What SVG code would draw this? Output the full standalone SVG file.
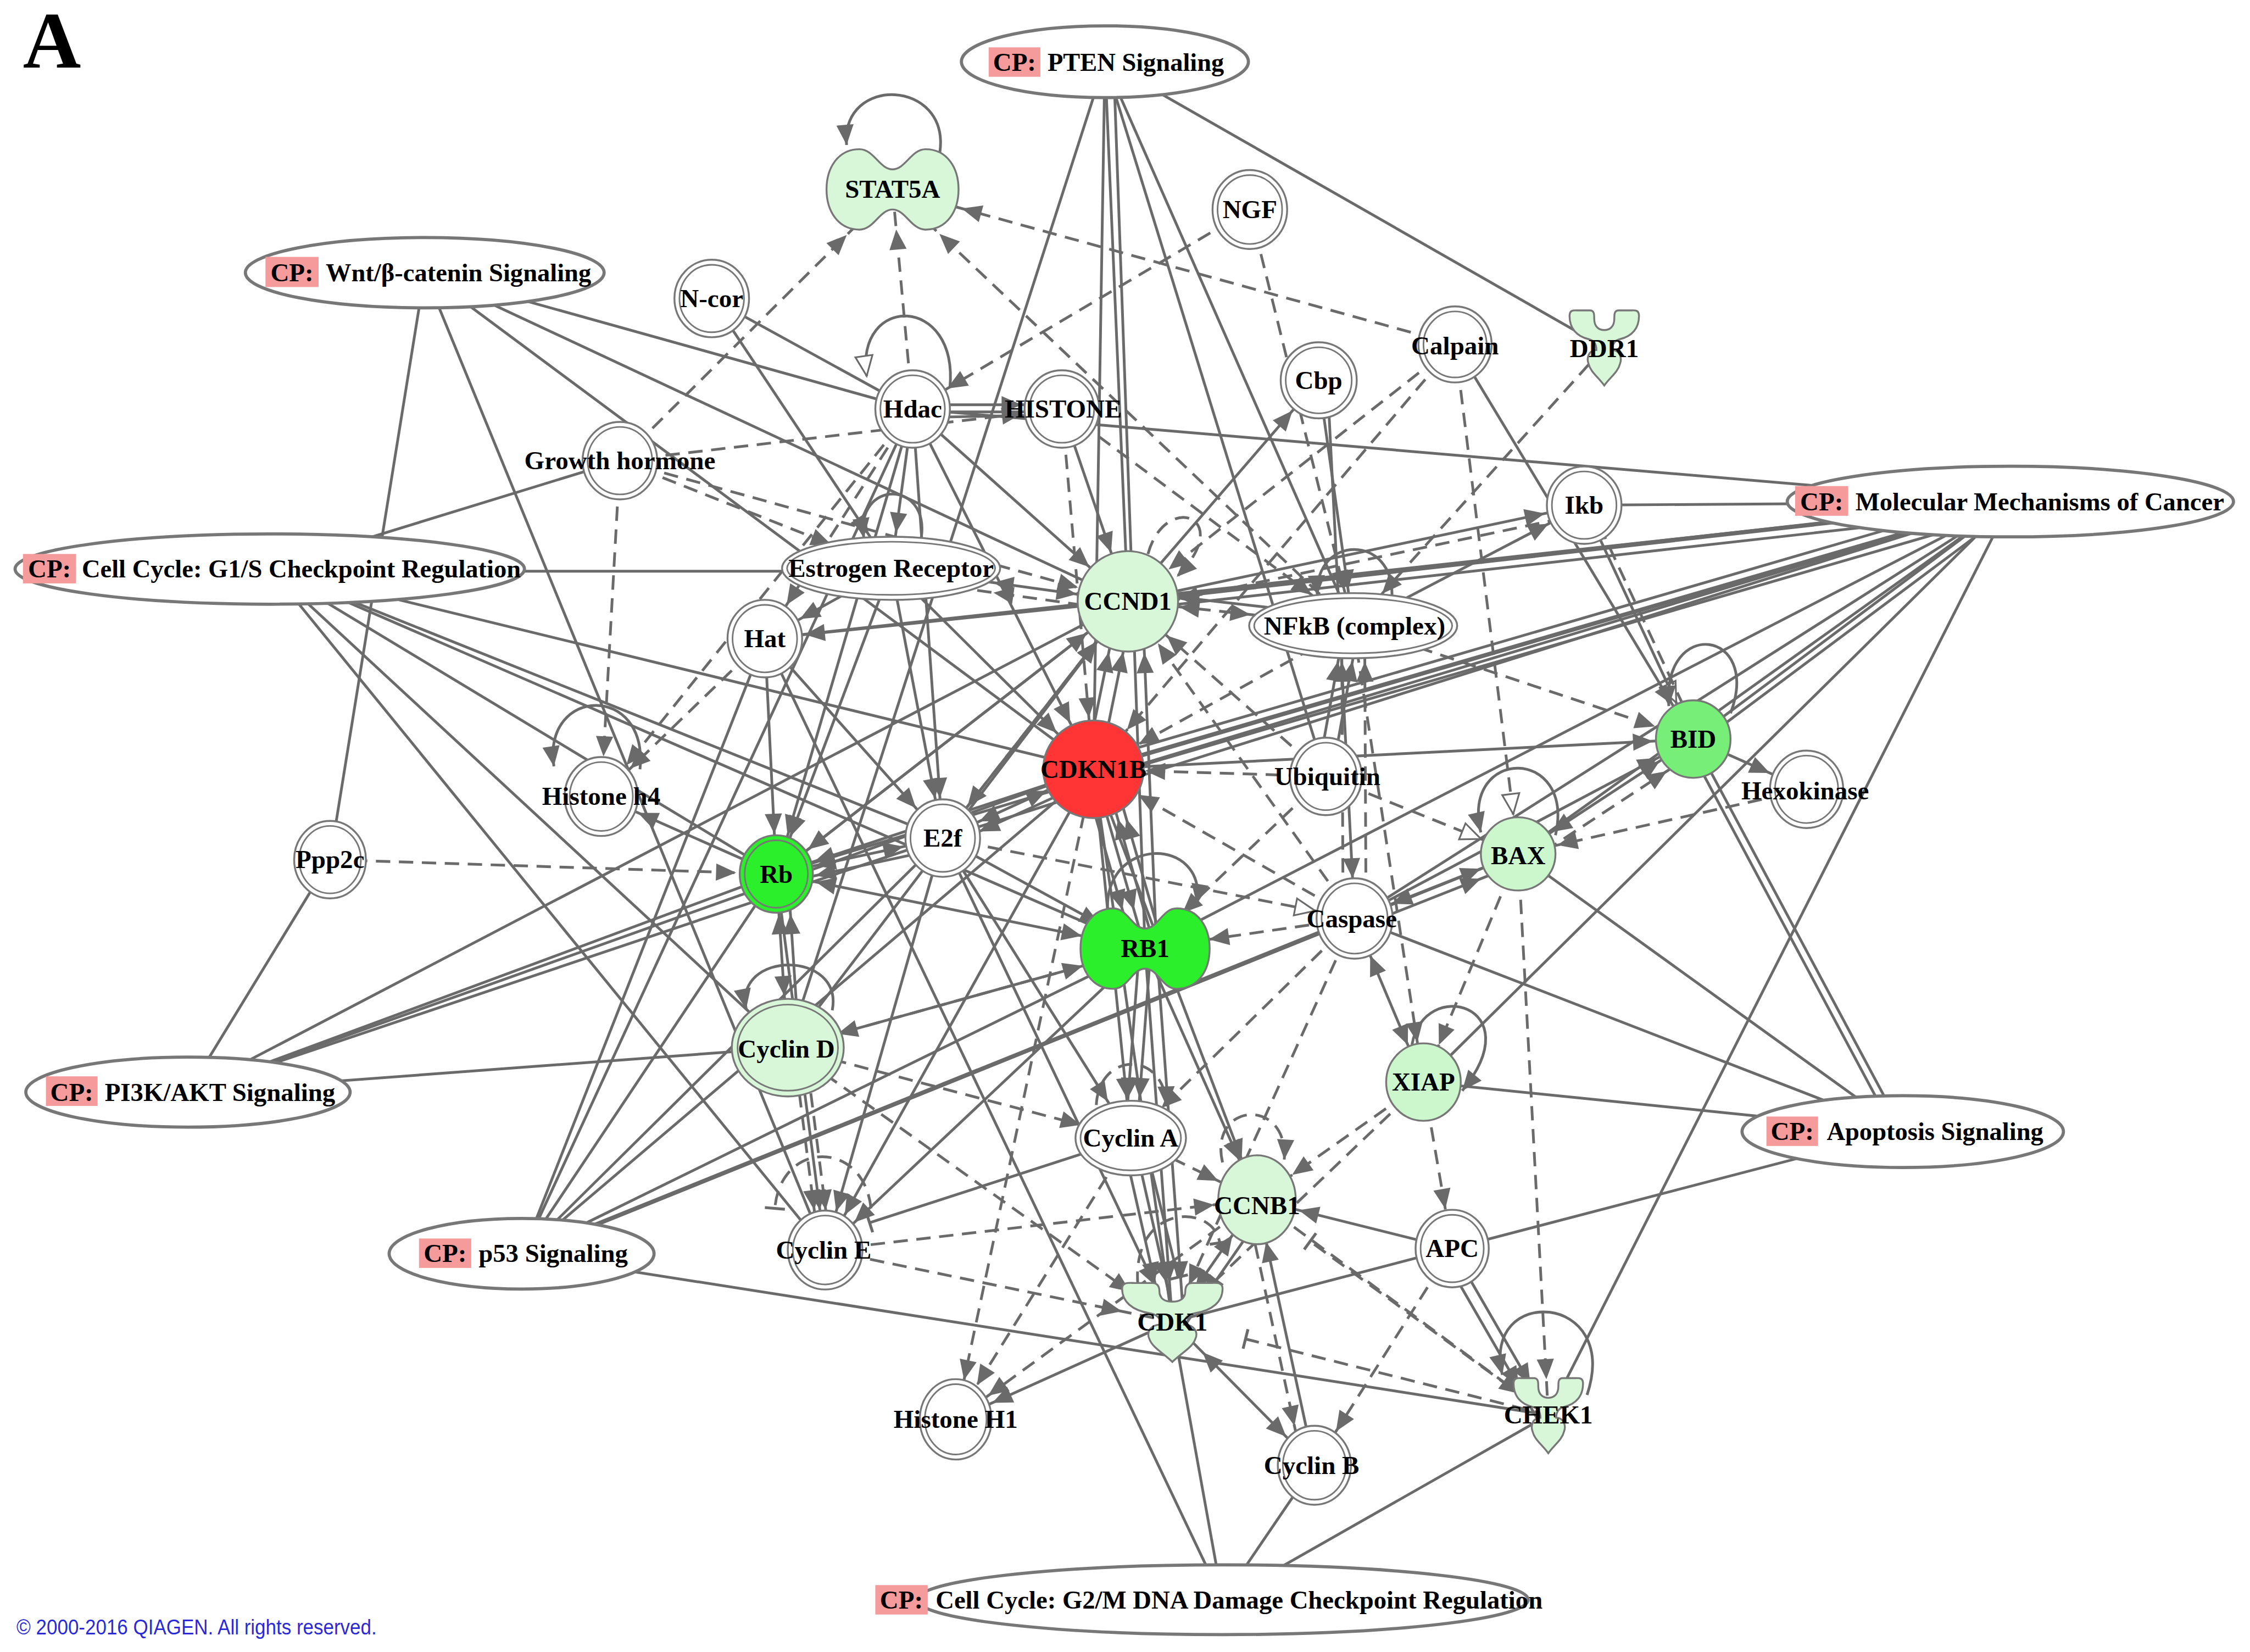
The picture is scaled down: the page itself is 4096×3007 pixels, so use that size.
<svg xmlns="http://www.w3.org/2000/svg" width="4096" height="3007" viewBox="0 0 4096 3007">
<style>
.s{stroke:#6a6a6a;stroke-width:1.9;fill:none}
.d{stroke-dasharray:10 6}
.k{stroke-width:3}
.ah{fill:#6a6a6a}
.e0{marker-end:url(#a0)}.e25{marker-end:url(#a25)}.e28{marker-end:url(#a28)}.e30{marker-end:url(#a30)}.e36{marker-end:url(#a36)}.e45{marker-end:url(#a45)}.e50{marker-end:url(#a50)}.e72{marker-end:url(#a72)}
.s28{marker-start:url(#a28)}.s30{marker-start:url(#a30)}.s36{marker-start:url(#a36)}.s72{marker-start:url(#a72)}
.o0{marker-end:url(#o0)}.o28{marker-end:url(#o28)}.t0{marker-end:url(#t0)}
.o{fill:#fff;stroke:#777;stroke-width:1.3}
.i{fill:none;stroke:#777;stroke-width:1.1}
.g{fill:#d8f7d8;stroke:#777;stroke-width:1.3}
.t{font-family:"Liberation Serif","Times New Roman",serif;font-weight:700;font-size:18px;text-anchor:middle;fill:#000}
.cpe{fill:#fff;stroke:#777;stroke-width:2.2}
.cpb{fill:#f69b9b}
.cpt{font-family:"Liberation Serif","Times New Roman",serif;font-weight:700;font-size:18px;fill:#000}
</style>
<defs>
<marker id="a0" markerUnits="userSpaceOnUse" markerWidth="14" markerHeight="12" refX="14" refY="6" orient="auto-start-reverse" overflow="visible"><path class="ah" d="M0,0L14,6L0,12z"/></marker>
<marker id="a25" markerUnits="userSpaceOnUse" markerWidth="14" markerHeight="12" refX="39" refY="6" orient="auto-start-reverse" overflow="visible"><path class="ah" d="M0,0L14,6L0,12z"/></marker>
<marker id="a28" markerUnits="userSpaceOnUse" markerWidth="14" markerHeight="12" refX="42" refY="6" orient="auto-start-reverse" overflow="visible"><path class="ah" d="M0,0L14,6L0,12z"/></marker>
<marker id="a30" markerUnits="userSpaceOnUse" markerWidth="14" markerHeight="12" refX="44" refY="6" orient="auto-start-reverse" overflow="visible"><path class="ah" d="M0,0L14,6L0,12z"/></marker>
<marker id="a36" markerUnits="userSpaceOnUse" markerWidth="14" markerHeight="12" refX="50" refY="6" orient="auto-start-reverse" overflow="visible"><path class="ah" d="M0,0L14,6L0,12z"/></marker>
<marker id="a45" markerUnits="userSpaceOnUse" markerWidth="14" markerHeight="12" refX="59" refY="6" orient="auto-start-reverse" overflow="visible"><path class="ah" d="M0,0L14,6L0,12z"/></marker>
<marker id="a50" markerUnits="userSpaceOnUse" markerWidth="14" markerHeight="12" refX="64" refY="6" orient="auto-start-reverse" overflow="visible"><path class="ah" d="M0,0L14,6L0,12z"/></marker>
<marker id="a72" markerUnits="userSpaceOnUse" markerWidth="14" markerHeight="12" refX="86" refY="6" orient="auto-start-reverse" overflow="visible"><path class="ah" d="M0,0L14,6L0,12z"/></marker>
<marker id="o0" markerUnits="userSpaceOnUse" markerWidth="14" markerHeight="12" refX="14" refY="6" orient="auto" overflow="visible"><path d="M0,0L14,6L0,12z" fill="#fff" stroke="#6a6a6a" stroke-width="1.2"/></marker>
<marker id="o28" markerUnits="userSpaceOnUse" markerWidth="14" markerHeight="12" refX="42" refY="6" orient="auto" overflow="visible"><path d="M0,0L14,6L0,12z" fill="#fff" stroke="#6a6a6a" stroke-width="1.2"/></marker>
<marker id="t0" markerUnits="userSpaceOnUse" markerWidth="2" markerHeight="14" refX="0" refY="0" orient="auto" overflow="visible"><path d="M0,-7L0,7" fill="none" stroke="#6a6a6a" stroke-width="2"/></marker>
</defs>
<rect x="0" y="0" width="4096" height="3007" fill="#fff"/>
<g transform="scale(2.612245)">
<g id="connectors">
<line class="s" x1="770" y1="43" x2="549" y2="730"/>
<line class="s" x1="770" y1="43" x2="762" y2="536"/>
<line class="s" x1="770" y1="43" x2="786" y2="419"/>
<line class="s" x1="776" y1="43" x2="798" y2="661"/>
<line class="s" x1="770" y1="43" x2="924" y2="541"/>
<line class="s" x1="770" y1="43" x2="943" y2="436"/>
<line class="s" x1="770" y1="43" x2="1118" y2="242"/>
<line class="s" x1="296" y1="190" x2="230" y2="599"/>
<line class="s" x1="296" y1="190" x2="575" y2="871"/>
<line class="s" x1="296" y1="190" x2="636" y2="285"/>
<line class="s" x1="296" y1="190" x2="786" y2="419"/>
<line class="s" x1="296" y1="190" x2="762" y2="536"/>
<line class="s" x1="188" y1="396" x2="432" y2="321"/>
<line class="s" x1="188" y1="398" x2="621" y2="398"/>
<line class="s" x1="188" y1="396" x2="762" y2="536"/>
<line class="s" x1="188" y1="396" x2="657" y2="584"/>
<line class="s" x1="188" y1="396" x2="798" y2="661"/>
<line class="s" x1="188" y1="396" x2="541" y2="609"/>
<line class="s" x1="188" y1="396" x2="549" y2="730"/>
<line class="s" x1="188" y1="396" x2="575" y2="871"/>
<line class="s" x1="1401" y1="350" x2="636" y2="285"/>
<line class="s" x1="1401" y1="350" x2="1104" y2="352"/>
<line class="s k" x1="1401" y1="350" x2="786" y2="419"/>
<line class="s" x1="1401" y1="356" x2="786" y2="425"/>
<line class="s k" x1="1401" y1="350" x2="762" y2="536"/>
<line class="s" x1="1401" y1="344" x2="762" y2="530"/>
<line class="s" x1="1401" y1="357" x2="762" y2="543"/>
<line class="s" x1="1401" y1="350" x2="533" y2="445"/>
<line class="s" x1="1401" y1="350" x2="798" y2="661"/>
<line class="s" x1="1401" y1="350" x2="541" y2="609"/>
<line class="s" x1="1401" y1="350" x2="1058" y2="595"/>
<line class="s" x1="1401" y1="350" x2="992" y2="754"/>
<line class="s" x1="1401" y1="350" x2="1079" y2="986"/>
<line class="s" x1="1401" y1="350" x2="1180" y2="515"/>
<line class="s" x1="1406" y1="352" x2="1185" y2="517"/>
<line class="s" x1="1401" y1="350" x2="944" y2="640"/>
<line class="s" x1="1401" y1="350" x2="657" y2="584"/>
<line class="s" x1="131" y1="761" x2="230" y2="599"/>
<line class="s" x1="131" y1="761" x2="541" y2="609"/>
<line class="s" x1="131" y1="761" x2="657" y2="584"/>
<line class="s" x1="131" y1="761" x2="762" y2="536"/>
<line class="s" x1="131" y1="761" x2="786" y2="419"/>
<line class="s" x1="131" y1="761" x2="549" y2="730"/>
<line class="s" x1="364" y1="874" x2="533" y2="445"/>
<line class="s" x1="364" y1="874" x2="636" y2="285"/>
<line class="s" x1="364" y1="874" x2="541" y2="609"/>
<line class="s" x1="364" y1="874" x2="657" y2="584"/>
<line class="s" x1="364" y1="874" x2="762" y2="536"/>
<line class="s" x1="364" y1="874" x2="798" y2="661"/>
<line class="s k" x1="364" y1="874" x2="944" y2="640"/>
<line class="s" x1="364" y1="874" x2="1058" y2="595"/>
<line class="s" x1="364" y1="874" x2="1079" y2="986"/>
<line class="s" x1="1326" y1="788" x2="1180" y2="515"/>
<line class="s" x1="1321" y1="790" x2="1175" y2="517"/>
<line class="s" x1="1326" y1="788" x2="1058" y2="595"/>
<line class="s" x1="1326" y1="788" x2="992" y2="754"/>
<line class="s" x1="1326" y1="788" x2="944" y2="640"/>
<line class="s" x1="1326" y1="788" x2="1012" y2="870"/>
<line class="s" x1="852" y1="1115" x2="533" y2="445"/>
<line class="s" x1="852" y1="1115" x2="817" y2="921"/>
<line class="s" x1="852" y1="1115" x2="916" y2="1021"/>
<line class="s" x1="852" y1="1115" x2="1079" y2="986"/>
<line class="s d e45" x1="432" y1="321" x2="622" y2="132"/>
<line class="s d e28" x1="636" y1="285" x2="622" y2="132"/>
<line class="s d e45" x1="943" y1="436" x2="622" y2="132"/>
<line class="s d e50" x1="1014" y1="240" x2="622" y2="132"/>
<line class="s d e28" x1="871" y1="146" x2="636" y2="285"/>
<line class="s e28" x1="636" y1="282" x2="740" y2="282"/>
<line class="s" x1="636" y1="287" x2="740" y2="287"/>
<line class="s" x1="636" y1="291" x2="740" y2="289"/>
<line class="s" x1="496" y1="208" x2="636" y2="285"/>
<line class="s e28" x1="496" y1="208" x2="621" y2="396"/>
<line class="s e25" x1="636" y1="285" x2="621" y2="396"/>
<line class="s d e28" x1="636" y1="285" x2="419" y2="555"/>
<line class="s e28" x1="636" y1="285" x2="541" y2="609"/>
<line class="s e28" x1="636" y1="285" x2="657" y2="584"/>
<line class="s e36" x1="636" y1="285" x2="786" y2="419"/>
<line class="s e36" x1="636" y1="285" x2="762" y2="536"/>
<line class="s d e28" x1="636" y1="285" x2="533" y2="445"/>
<line class="s e36" x1="740" y1="285" x2="786" y2="419"/>
<line class="s d e36" x1="740" y1="285" x2="943" y2="436"/>
<line class="s d e36" x1="740" y1="285" x2="762" y2="536"/>
<line class="s d e28" x1="432" y1="321" x2="419" y2="555"/>
<line class="s d e45" x1="432" y1="321" x2="621" y2="396"/>
<line class="s d e28" x1="432" y1="321" x2="740" y2="285"/>
<line class="s d e36" x1="432" y1="321" x2="786" y2="419"/>
<line class="s e36 s72" x1="621" y1="396" x2="786" y2="419"/>
<line class="s d e72" x1="786" y1="426" x2="621" y2="403"/>
<line class="s e28" x1="621" y1="396" x2="541" y2="609"/>
<line class="s e28" x1="621" y1="396" x2="657" y2="584"/>
<line class="s e36" x1="621" y1="396" x2="762" y2="536"/>
<line class="s e28" x1="621" y1="396" x2="533" y2="445"/>
<line class="s e28" x1="786" y1="419" x2="533" y2="445"/>
<line class="s e28" x1="786" y1="419" x2="1104" y2="352"/>
<line class="s d e36" x1="1104" y1="358" x2="786" y2="425"/>
<line class="s d e72 s36" x1="786" y1="419" x2="943" y2="436"/>
<line class="s e36" x1="943" y1="430" x2="786" y2="412"/>
<line class="s d e36" x1="1014" y1="240" x2="786" y2="419"/>
<line class="s d e36" x1="1014" y1="240" x2="762" y2="536"/>
<line class="s d o28" x1="1014" y1="240" x2="1058" y2="595"/>
<line class="s e28" x1="1014" y1="240" x2="1180" y2="515"/>
<line class="s o28" x1="1104" y1="352" x2="1180" y2="515"/>
<line class="s d" x1="1108" y1="352" x2="1184" y2="515"/>
<line class="s d e30" x1="1118" y1="242" x2="943" y2="436"/>
<line class="s d e25" x1="871" y1="146" x2="943" y2="436"/>
<line class="s e25" x1="919" y1="265" x2="943" y2="436"/>
<line class="s e28" x1="925" y1="265" x2="944" y2="640"/>
<line class="s e28" x1="786" y1="419" x2="919" y2="265"/>
<line class="s e28" x1="943" y1="436" x2="1104" y2="352"/>
<line class="s d e28" x1="943" y1="436" x2="1180" y2="515"/>
<line class="s d e28" x1="943" y1="436" x2="992" y2="754"/>
<line class="s d e36" x1="943" y1="436" x2="762" y2="536"/>
<line class="s e25" x1="918" y1="541" x2="937" y2="436"/>
<line class="s e25" x1="928" y1="541" x2="947" y2="436"/>
<line class="s d e36" x1="924" y1="541" x2="762" y2="536"/>
<line class="s d o28" x1="924" y1="541" x2="1058" y2="595"/>
<line class="s d e36" x1="924" y1="541" x2="786" y2="419"/>
<line class="s d e36" x1="924" y1="541" x2="798" y2="661"/>
<line class="s d e25" x1="936" y1="640" x2="935" y2="436"/>
<line class="s d e25" x1="952" y1="640" x2="951" y2="436"/>
<line class="s d e36" x1="944" y1="640" x2="762" y2="536"/>
<line class="s d e45" x1="944" y1="640" x2="798" y2="661"/>
<line class="s d e36" x1="944" y1="640" x2="786" y2="419"/>
<line class="s e28 s28" x1="944" y1="640" x2="1058" y2="595"/>
<line class="s e28" x1="944" y1="647" x2="1058" y2="602"/>
<line class="s e28 s28" x1="944" y1="640" x2="992" y2="754"/>
<line class="s e28" x1="944" y1="640" x2="1180" y2="515"/>
<line class="s d e30" x1="944" y1="640" x2="788" y2="793"/>
<line class="s d e28" x1="944" y1="640" x2="817" y2="921"/>
<line class="s e28 s28" x1="1180" y1="515" x2="1058" y2="595"/>
<line class="s d e28" x1="1063" y1="602" x2="1185" y2="522"/>
<line class="s d e28" x1="1259" y1="550" x2="1058" y2="595"/>
<line class="s e28" x1="1180" y1="515" x2="1259" y2="550"/>
<line class="s d e25" x1="1058" y1="595" x2="1079" y2="986"/>
<line class="s e28" x1="762" y1="536" x2="1180" y2="515"/>
<line class="s d e28" x1="1058" y1="595" x2="992" y2="754"/>
<line class="s d e28" x1="533" y1="445" x2="419" y2="555"/>
<line class="s e28" x1="541" y1="609" x2="419" y2="555"/>
<line class="s d e28" x1="230" y1="599" x2="541" y2="609"/>
<line class="s e28" x1="533" y1="445" x2="657" y2="584"/>
<line class="s e28" x1="533" y1="445" x2="541" y2="609"/>
<line class="s e28 s28" x1="657" y1="584" x2="541" y2="609"/>
<line class="s e28" x1="657" y1="591" x2="541" y2="616"/>
<line class="s e28 s36" x1="762" y1="536" x2="657" y2="584"/>
<line class="s e28" x1="762" y1="543" x2="657" y2="591"/>
<line class="s e28" x1="762" y1="536" x2="541" y2="609"/>
<line class="s e28" x1="754" y1="536" x2="790" y2="661"/>
<line class="s e28" x1="762" y1="536" x2="798" y2="661"/>
<line class="s e36" x1="805" y1="661" x2="769" y2="536"/>
<line class="s e36" x1="811" y1="661" x2="775" y2="536"/>
<line class="s e36" x1="756" y1="536" x2="780" y2="419"/>
<line class="s e36" x1="766" y1="536" x2="790" y2="419"/>
<line class="s e36" x1="657" y1="584" x2="786" y2="419"/>
<line class="s e36" x1="541" y1="609" x2="786" y2="419"/>
<line class="s e36" x1="806" y1="661" x2="796" y2="419"/>
<line class="s e28" x1="786" y1="419" x2="541" y2="609"/>
<line class="s e36" x1="549" y1="730" x2="786" y2="419"/>
<line class="s e45 s28" x1="541" y1="609" x2="798" y2="661"/>
<line class="s e36" x1="657" y1="584" x2="798" y2="661"/>
<line class="s e28 s36" x1="549" y1="730" x2="541" y2="609"/>
<line class="s e28" x1="557" y1="730" x2="549" y2="609"/>
<line class="s d e28" x1="553" y1="730" x2="571" y2="871"/>
<line class="s d e28" x1="561" y1="730" x2="579" y2="871"/>
<line class="s d e36" x1="549" y1="730" x2="788" y2="793"/>
<line class="s e45" x1="549" y1="730" x2="798" y2="661"/>
<line class="s e28" x1="657" y1="584" x2="575" y2="871"/>
<line class="s e30" x1="657" y1="584" x2="788" y2="793"/>
<line class="s e28" x1="657" y1="584" x2="817" y2="921"/>
<line class="s e28" x1="798" y1="661" x2="575" y2="871"/>
<line class="s e28" x1="794" y1="661" x2="784" y2="793"/>
<line class="s e28" x1="802" y1="661" x2="792" y2="793"/>
<line class="s e28" x1="798" y1="661" x2="817" y2="921"/>
<line class="s e28" x1="806" y1="661" x2="825" y2="921"/>
<line class="s e30" x1="798" y1="661" x2="876" y2="836"/>
<line class="s e28" x1="762" y1="536" x2="575" y2="871"/>
<line class="s e28" x1="762" y1="536" x2="788" y2="793"/>
<line class="s e28" x1="762" y1="536" x2="817" y2="921"/>
<line class="s e30" x1="762" y1="536" x2="876" y2="836"/>
<line class="s t0" x1="788" y1="793" x2="606" y2="852"/>
<line class="s d e30" x1="575" y1="871" x2="876" y2="836"/>
<line class="s d e36" x1="575" y1="871" x2="817" y2="921"/>
<line class="s e28" x1="782" y1="793" x2="811" y2="921"/>
<line class="s e28" x1="790" y1="793" x2="819" y2="921"/>
<line class="s t0" x1="797" y1="793" x2="821" y2="890"/>
<line class="s d e30" x1="788" y1="793" x2="876" y2="836"/>
<line class="s d e28" x1="788" y1="793" x2="666" y2="989"/>
<line class="s d e28" x1="762" y1="536" x2="666" y2="989"/>
<line class="s e28 s30" x1="876" y1="836" x2="817" y2="921"/>
<line class="s e28" x1="883" y1="841" x2="824" y2="926"/>
<line class="s e30" x1="1012" y1="870" x2="876" y2="836"/>
<line class="s e30" x1="916" y1="1021" x2="876" y2="836"/>
<line class="s d e28" x1="868" y1="836" x2="908" y2="1021"/>
<line class="s d t0" x1="1079" y1="986" x2="913" y2="865"/>
<line class="s d e25" x1="876" y1="836" x2="1079" y2="986"/>
<line class="s d t0" x1="1079" y1="986" x2="868" y2="933"/>
<line class="s e28" x1="817" y1="921" x2="666" y2="989"/>
<line class="s d e28" x1="876" y1="836" x2="666" y2="989"/>
<line class="s e28 s30" x1="817" y1="921" x2="916" y2="1021"/>
<line class="s" x1="817" y1="921" x2="1012" y2="870"/>
<line class="s e25" x1="1012" y1="870" x2="1079" y2="986"/>
<line class="s e25" x1="1004" y1="872" x2="1071" y2="988"/>
<line class="s d e28" x1="1012" y1="870" x2="916" y2="1021"/>
<line class="s d e28" x1="992" y1="754" x2="1012" y2="870"/>
<line class="s d e30" x1="992" y1="754" x2="876" y2="836"/>
<line class="s d e28" x1="992" y1="754" x2="817" y2="921"/>
<line class="s d o28" x1="657" y1="584" x2="944" y2="640"/>
<line class="s d e28" x1="786" y1="419" x2="657" y2="584"/>
<line class="s d e36" x1="549" y1="730" x2="817" y2="921"/>
<line class="s e28" x1="541" y1="609" x2="575" y2="871"/>
<line class="s d e36" x1="798" y1="661" x2="549" y2="730"/>
<path class="s e0" d="M655,106 C662,55 586,52 590,101"/>
<path class="s o0" d="M662,270 C668,205 596,205 604,262"/>
<path class="s e0" d="M970,416 C972,372 916,372 918,415"/>
<path class="s e0" d="M1206,497 C1228,438 1158,430 1163,492"/>
<path class="s e0" d="M1084,582 C1098,520 1018,520 1032,580"/>
<path class="s e0" d="M984,728 C992,680 1068,700 1019,760"/>
<path class="s e0" d="M1106,972 C1130,900 1032,895 1047,958"/>
<path class="s e0" d="M580,704 C588,662 512,662 520,703"/>
<path class="s e0" d="M446,536 C452,476 378,478 386,534"/>
<path class="s e0" d="M772,636 C768,582 842,582 834,630"/>
<path class="s e0" d="M642,375 C648,334 596,334 602,375"/>
<path class="s d e0" d="M800,386 C812,342 862,360 820,402"/>
<path class="s d t0" d="M607,842 C602,794 544,794 540,842"/>
<path class="s d e0" d="M764,770 C766,732 812,732 813,771"/>
<path class="s d e0" d="M852,810 C842,768 898,764 895,808"/>
<path class="s d t0" d="M793,896 C788,838 846,838 850,866"/>
</g>
<g id="cp-pten"><ellipse class="cpe" cx="770" cy="43" rx="100" ry="25"/><rect class="cpb" x="689" y="33" width="36" height="20.5"/><text class="cpt" x="707" y="49.5" text-anchor="middle">CP:</text><text class="cpt" x="730" y="49.5" textLength="123" lengthAdjust="spacingAndGlyphs">PTEN Signaling</text></g>
<g id="cp-wnt"><ellipse class="cpe" cx="296" cy="190" rx="125" ry="24.5"/><rect class="cpb" x="185" y="179" width="37" height="21"/><text class="cpt" x="203.5" y="196" text-anchor="middle">CP:</text><text class="cpt" x="227" y="196" textLength="185" lengthAdjust="spacingAndGlyphs">Wnt/β-catenin Signaling</text></g>
<g id="cp-g1s"><ellipse class="cpe" cx="188" cy="396.5" rx="177.5" ry="24.5"/><rect class="cpb" x="16" y="386" width="37" height="20.5"/><text class="cpt" x="34.5" y="402.5" text-anchor="middle">CP:</text><text class="cpt" x="57" y="402.5" textLength="306" lengthAdjust="spacingAndGlyphs">Cell Cycle: G1/S Checkpoint Regulation</text></g>
<g id="cp-mmc"><ellipse class="cpe" cx="1401" cy="349.5" rx="155.5" ry="24.6"/><rect class="cpb" x="1251" y="338.7" width="37" height="20.7"/><text class="cpt" x="1269.5" y="355.5" text-anchor="middle">CP:</text><text class="cpt" x="1293" y="355.5" textLength="257" lengthAdjust="spacingAndGlyphs">Molecular Mechanisms of Cancer</text></g>
<g id="cp-pi3k"><ellipse class="cpe" cx="131" cy="761" rx="113" ry="24.4"/><rect class="cpb" x="32" y="750" width="36" height="20.6"/><text class="cpt" x="50" y="767" text-anchor="middle">CP:</text><text class="cpt" x="73" y="767" textLength="160.6" lengthAdjust="spacingAndGlyphs">PI3K/AKT Signaling</text></g>
<g id="cp-apo"><ellipse class="cpe" cx="1326" cy="788.5" rx="112" ry="25"/><rect class="cpb" x="1231" y="778" width="36" height="20.5"/><text class="cpt" x="1249" y="794.5" text-anchor="middle">CP:</text><text class="cpt" x="1273" y="794.5" textLength="151" lengthAdjust="spacingAndGlyphs">Apoptosis Signaling</text></g>
<g id="cp-p53"><ellipse class="cpe" cx="363.5" cy="873.6" rx="92.3" ry="24.6"/><rect class="cpb" x="292" y="863" width="36.4" height="20.5"/><text class="cpt" x="310.2" y="879.5" text-anchor="middle">CP:</text><text class="cpt" x="333.5" y="879.5" textLength="104" lengthAdjust="spacingAndGlyphs">p53 Signaling</text></g>
<g id="cp-g2m"><ellipse class="cpe" cx="852" cy="1114.7" rx="213" ry="24.3"/><rect class="cpb" x="610" y="1104.5" width="36.5" height="20.5"/><text class="cpt" x="628.2" y="1121" text-anchor="middle">CP:</text><text class="cpt" x="652" y="1121" textLength="423" lengthAdjust="spacingAndGlyphs">Cell Cycle: G2/M DNA Damage Checkpoint Regulation</text></g>
<g id="n-stat5a"><path class="g" transform="translate(622,132)" d="M-23,-28C-13,-28 -9,-14 0,-14C9,-14 13,-28 23,-28C38,-28 46,-15 46,0C46,15 38,28 23,28C13,28 9,14 0,14C-9,14 -13,28 -23,28C-38,28 -46,15 -46,0C-46,-15 -38,-28 -23,-28Z"/><text class="t" x="622" y="138">STAT5A</text></g>
<g id="n-ngf"><ellipse class="o" cx="871" cy="146" rx="26" ry="27.5"/><ellipse class="i" cx="871" cy="146" rx="22.5" ry="24"/><text class="t" x="871" y="152">NGF</text></g>
<g id="n-ncor"><ellipse class="o" cx="496" cy="208" rx="26" ry="27"/><ellipse class="i" cx="496" cy="208" rx="22.5" ry="23.5"/><text class="t" x="496" y="214">N-cor</text></g>
<g id="n-calpain"><ellipse class="o" cx="1014" cy="240" rx="25.5" ry="26.5"/><ellipse class="i" cx="1014" cy="240" rx="22" ry="23"/><text class="t" x="1014" y="247">Calpain</text></g>
<g id="n-ddr1"><path class="g" transform="translate(1118,242)" d="M-24.2,-21.9C-24.2,-26.6 -20.7,-25.7 -17.9,-25.7L-10,-25.7C-7,-25.7 -7,-23 -7,-20C-7,-14 -3.5,-12 0,-12C3.5,-12 7,-14 7,-20C7,-23 7,-25.7 10,-25.7L17.9,-25.7C20.7,-25.7 24.2,-26.6 24.2,-21.9C24.2,-13.3 19.3,-7.6 11,-5.7C6.9,-4.75 5.5,-1.9 5.5,1.9C11,1.9 12.4,7.6 11,11.4C9.7,17.1 4.1,20.9 0,26.6C-4.1,20.9 -9.7,17.1 -11,11.4C-12.4,7.6 -11,1.9 -5.5,1.9C-5.5,-1.9 -6.9,-4.75 -11,-5.7C-19.3,-7.6 -24.2,-13.3 -24.2,-21.9Z"/><text class="t" x="1118" y="249">DDR1</text></g>
<g id="n-cbp"><ellipse class="o" cx="919" cy="265" rx="26.5" ry="26.5"/><ellipse class="i" cx="919" cy="265" rx="23" ry="23"/><text class="t" x="919" y="271">Cbp</text></g>
<g id="n-hdac"><ellipse class="o" cx="636" cy="285" rx="26" ry="27"/><ellipse class="i" cx="636" cy="285" rx="22.5" ry="23.5"/><text class="t" x="636" y="291">Hdac</text></g>
<g id="n-histone"><ellipse class="o" cx="740" cy="285" rx="26" ry="27"/><ellipse class="i" cx="740" cy="285" rx="22.5" ry="23.5"/><text class="t" x="741" y="291">HISTONE</text></g>
<g id="n-gh"><ellipse class="o" cx="432" cy="321" rx="26" ry="27"/><ellipse class="i" cx="432" cy="321" rx="22.5" ry="23.5"/><text class="t" x="432" y="327">Growth hormone</text></g>
<g id="n-ikb"><ellipse class="o" cx="1104" cy="352" rx="26" ry="27"/><ellipse class="i" cx="1104" cy="352" rx="22.5" ry="23.5"/><text class="t" x="1104" y="358">Ikb</text></g>
<g id="n-er"><ellipse class="o" cx="621" cy="396" rx="76" ry="22"/><ellipse class="i" cx="621" cy="396" rx="72.5" ry="18.5"/><text class="t" x="621" y="402">Estrogen Receptor</text></g>
<g id="n-ccnd1"><circle class="g" cx="786" cy="419" r="35"/><text class="t" x="786" y="425">CCND1</text></g>
<g id="n-nfkb"><ellipse class="o" cx="943" cy="436" rx="72.5" ry="22.7"/><ellipse class="i" cx="943" cy="436" rx="69" ry="19.2"/><text class="t" x="944" y="442">NFkB (complex)</text></g>
<g id="n-hat"><ellipse class="o" cx="533" cy="445" rx="26" ry="27"/><ellipse class="i" cx="533" cy="445" rx="22.5" ry="23.5"/><text class="t" x="533" y="451">Hat</text></g>
<g id="n-cdkn1b"><ellipse cx="762" cy="536" rx="35" ry="34" fill="#ff3434" stroke="#777" stroke-width="1.3"/><text class="t" x="762" y="542">CDKN1B</text></g>
<g id="n-ubiquitin"><ellipse class="o" cx="924" cy="541" rx="25" ry="27"/><ellipse class="i" cx="924" cy="541" rx="21.5" ry="23.5"/><text class="t" x="925" y="547">Ubiquitin</text></g>
<g id="n-bid"><ellipse cx="1180" cy="515" rx="26" ry="27" fill="#77ee77" stroke="#777" stroke-width="1.3"/><text class="t" x="1180" y="521">BID</text></g>
<g id="n-hexokinase"><ellipse class="o" cx="1259" cy="550" rx="25.5" ry="27"/><ellipse class="i" cx="1259" cy="550" rx="22" ry="23.5"/><text class="t" x="1258" y="557">Hexokinase</text></g>
<g id="n-h4"><ellipse class="o" cx="419" cy="555" rx="25.5" ry="27.5"/><ellipse class="i" cx="419" cy="555" rx="22" ry="24"/><text class="t" x="419" y="561">Histone h4</text></g>
<g id="n-e2f"><ellipse class="o" cx="657" cy="584" rx="26" ry="27"/><ellipse class="i" cx="657" cy="584" rx="22.5" ry="23.5"/><text class="t" x="657" y="590">E2f</text></g>
<g id="n-rb"><ellipse cx="541" cy="609" rx="25.5" ry="27" fill="#2aef2a" stroke="#777" stroke-width="1.3"/><ellipse class="i" cx="541" cy="609" rx="22" ry="23.5"/><text class="t" x="541" y="615">Rb</text></g>
<g id="n-bax"><ellipse cx="1058" cy="595" rx="26" ry="25.5" fill="#ccf6cc" stroke="#777" stroke-width="1.3"/><text class="t" x="1058" y="602">BAX</text></g>
<g id="n-ppp2c"><ellipse class="o" cx="230" cy="599" rx="25" ry="27"/><ellipse class="i" cx="230" cy="599" rx="21.5" ry="23.5"/><text class="t" x="230" y="605">Ppp2c</text></g>
<g id="n-caspase"><ellipse class="o" cx="944" cy="640" rx="26.5" ry="28"/><ellipse class="i" cx="944" cy="640" rx="23" ry="24.5"/><text class="t" x="942" y="646">Caspase</text></g>
<g id="n-rb1"><path transform="translate(798,661)" fill="#2aef2a" stroke="#777" stroke-width="1.3" d="M-22,-28C-12,-28 -9,-14 0,-14C9,-14 12,-28 22,-28C37,-28 45,-15 45,0C45,15 37,28 22,28C12,28 9,14 0,14C-9,14 -12,28 -22,28C-37,28 -45,15 -45,0C-45,-15 -37,-28 -22,-28Z"/><text class="t" x="798" y="667">RB1</text></g>
<g id="n-cyclind"><ellipse class="g" cx="549" cy="730" rx="39" ry="34"/><ellipse class="i" cx="549" cy="730" rx="35" ry="30"/><text class="t" x="548" y="737">Cyclin D</text></g>
<g id="n-xiap"><ellipse cx="992" cy="754" rx="26" ry="27" fill="#ccf6cc" stroke="#777" stroke-width="1.3"/><text class="t" x="992" y="760">XIAP</text></g>
<g id="n-cyclina"><ellipse class="o" cx="788" cy="793" rx="38.5" ry="26"/><ellipse class="i" cx="788" cy="793" rx="35" ry="22.5"/><text class="t" x="788" y="799">Cyclin A</text></g>
<g id="n-ccnb1"><ellipse class="g" cx="876" cy="836" rx="27" ry="31"/><text class="t" x="876" y="846">CCNB1</text></g>
<g id="n-apc"><ellipse class="o" cx="1012" cy="870" rx="25.5" ry="27"/><ellipse class="i" cx="1012" cy="870" rx="22" ry="23.5"/><text class="t" x="1012" y="876">APC</text></g>
<g id="n-cycline"><ellipse class="o" cx="575" cy="871" rx="26" ry="27.5"/><ellipse class="i" cx="575" cy="871" rx="22.5" ry="24"/><text class="t" x="574" y="877">Cyclin E</text></g>
<g id="n-cdk1"><path class="g" transform="translate(817,921)" d="M-35,-23C-35,-28 -30,-27 -26,-27L-14,-27C-10,-27 -9,-24 -9,-21C-9,-16 -5,-14 0,-14C5,-14 9,-16 9,-21C9,-24 10,-27 14,-27L26,-27C30,-27 35,-28 35,-23C35,-14 28,-8 16,-6C10,-5 8,-2 8,2C16,2 18,8 16,12C14,18 6,22 0,28C-6,22 -14,18 -16,12C-18,8 -16,2 -8,2C-8,-2 -10,-5 -16,-6C-28,-8 -35,-14 -35,-23Z"/><text class="t" x="817" y="927">CDK1</text></g>
<g id="n-chek1"><path class="g" transform="translate(1079,986)" d="M-24.2,-21.9C-24.2,-26.6 -20.7,-25.7 -17.9,-25.7L-10,-25.7C-7,-25.7 -7,-23 -7,-20C-7,-14 -3.5,-12 0,-12C3.5,-12 7,-14 7,-20C7,-23 7,-25.7 10,-25.7L17.9,-25.7C20.7,-25.7 24.2,-26.6 24.2,-21.9C24.2,-13.3 19.3,-7.6 11,-5.7C6.9,-4.75 5.5,-1.9 5.5,1.9C11,1.9 12.4,7.6 11,11.4C9.7,17.1 4.1,20.9 0,26.6C-4.1,20.9 -9.7,17.1 -11,11.4C-12.4,7.6 -11,1.9 -5.5,1.9C-5.5,-1.9 -6.9,-4.75 -11,-5.7C-19.3,-7.6 -24.2,-13.3 -24.2,-21.9Z"/><text class="t" x="1079" y="992">CHEK1</text></g>
<g id="n-h1"><ellipse class="o" cx="666" cy="989" rx="25" ry="28"/><ellipse class="i" cx="666" cy="989" rx="21.5" ry="24.5"/><text class="t" x="666" y="995">Histone H1</text></g>
<g id="n-cyclinb"><ellipse class="o" cx="916" cy="1021" rx="25.5" ry="27.5"/><ellipse class="i" cx="916" cy="1021" rx="22" ry="24"/><text class="t" x="914" y="1027">Cyclin B</text></g>
<text x="16" y="47" font-family="Liberation Serif, Times New Roman, serif" font-weight="700" font-size="56" fill="#000">A</text>
<text x="11.5" y="1139" font-family="Liberation Sans, Arial, sans-serif" font-size="14.5" fill="#2a2ad6" textLength="251" lengthAdjust="spacingAndGlyphs">© 2000-2016 QIAGEN. All rights reserved.</text>
</g>
</svg>
